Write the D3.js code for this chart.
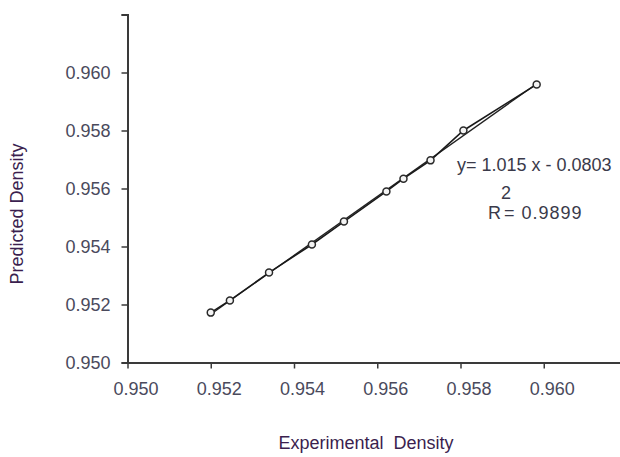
<!DOCTYPE html>
<html>
  <head>
    <meta charset="utf-8">
    <title>Predicted vs experimental density</title>
    <script src="https://d3js.org/d3.v7.min.js"></script>
    <style>
      body { margin: 0; background: #fff; }
      svg text { font-family: "Liberation Sans", Arial, sans-serif; }
      .tick-label { font-size: 18px; fill: #4a4a5c; }
      .title { font-size: 18px; fill: #3b1f4f; white-space: pre; }
      .eq { font-size: 18px; fill: #3a3a4a; }
    </style>
  </head>
  <body>
    <div id="chart"></div>
    <script>
      // data
      const experimental = [0.95200, 0.95246, 0.95340, 0.95443, 0.95520, 0.95622, 0.95663, 0.95728, 0.95807, 0.95983];
      const predicted    = [0.95172, 0.95214, 0.95310, 0.95407, 0.95486, 0.95590, 0.95634, 0.95697, 0.95800, 0.95959];
      const xTicks = [0.950, 0.952, 0.954, 0.956, 0.958, 0.960];
      const yTicks = [0.950, 0.952, 0.954, 0.956, 0.958, 0.960, 0.962];
      const yTickLabels = ["0.950", "0.952", "0.954", "0.956", "0.958", "0.960", ""];
      const equationText = "y= 1.015 x - 0.0803";
      const r2Text = "= 0.9899";

      const width = 620, height = 457;
      const svg = d3.select("#chart").append("svg")
        .attr("width", width)
        .attr("height", height);

      // scales
      const x = d3.scaleLinear().domain([0.950, 0.962]).range([127.5, 627]);
      const y = d3.scaleLinear().domain([0.950, 0.962]).range([362.5, 14.5]);

      const points = experimental.map((d, i) => [d, predicted[i]]);

      // y axis
      const yAxis = svg.append("g")
        .attr("transform", "translate(" + x(0.950) + ",0)")
        .call(d3.axisLeft(y).tickValues(yTicks).tickSize(6).tickFormat((d, i) => yTickLabels[i]));
      yAxis.select(".domain").attr("stroke", "#3a3a3a").attr("stroke-width", 2);
      yAxis.selectAll(".tick line").attr("stroke", "#3a3a3a").attr("stroke-width", 1.5);
      yAxis.selectAll(".tick text")
        .attr("class", "tick-label")
        .attr("x", -17)
        .attr("dy", "0.36em");

      // x axis (line runs to the right edge)
      const xAxis = svg.append("g")
        .attr("transform", "translate(0," + y(0.950) + ")")
        .call(d3.axisBottom(x).tickValues(xTicks).tickSize(6).tickSizeOuter(0).tickFormat(d3.format(".3f")));
      xAxis.select(".domain").attr("stroke", "#3a3a3a").attr("stroke-width", 2);
      xAxis.selectAll(".tick line").attr("stroke", "#3a3a3a").attr("stroke-width", 1.5);
      xAxis.selectAll(".tick text")
        .attr("class", "tick-label")
        .attr("x", 8)
        .attr("y", 20)
        .attr("dy", "0.71em");
      svg.selectAll("g").attr("font-size", null).attr("font-family", null);

      // least squares trend line over the data range
      const mx = d3.mean(experimental), my = d3.mean(predicted);
      const slope = d3.sum(points, p => (p[0] - mx) * (p[1] - my)) / d3.sum(points, p => (p[0] - mx) * (p[0] - mx));
      const icpt = my - slope * mx;
      const xs = d3.extent(experimental);
      svg.append("line")
        .attr("x1", x(xs[0])).attr("y1", y(slope * xs[0] + icpt))
        .attr("x2", x(xs[1])).attr("y2", y(slope * xs[1] + icpt))
        .attr("stroke", "#222")
        .attr("stroke-width", 1.3);

      // data line
      const line = d3.line().x(d => x(d[0])).y(d => y(d[1]));
      svg.append("path")
        .datum(points)
        .attr("d", line)
        .attr("fill", "none")
        .attr("stroke", "#1a1a1a")
        .attr("stroke-width", 1.6);

      svg.selectAll(".pt")
        .data(points)
        .enter().append("circle")
          .attr("class", "pt")
          .attr("cx", d => x(d[0]))
          .attr("cy", d => y(d[1]))
          .attr("r", 3.5)
          .attr("fill", "#f4f4f4")
          .attr("stroke", "#2a2a2a")
          .attr("stroke-width", 1.5);

      // equation and R squared
      svg.append("text").attr("class", "eq")
        .attr("x", 457).attr("y", 171)
        .text(equationText);
      svg.append("text").attr("class", "eq")
        .attr("x", 501).attr("y", 199)
        .text("2");
      svg.append("text").attr("class", "eq")
        .attr("x", 488).attr("y", 219)
        .text("R");
      svg.append("text").attr("class", "eq")
        .attr("x", 504).attr("y", 219)
        .style("letter-spacing", "1px")
        .text(r2Text);

      // axis titles
      svg.append("text").attr("class", "title")
        .attr("x", 366).attr("y", 449)
        .attr("text-anchor", "middle")
        .text("Experimental  Density");
      svg.append("text").attr("class", "title")
        .attr("transform", "translate(23,214) rotate(-90)")
        .attr("text-anchor", "middle")
        .text("Predicted Density");
    </script>
  </body>
</html>
